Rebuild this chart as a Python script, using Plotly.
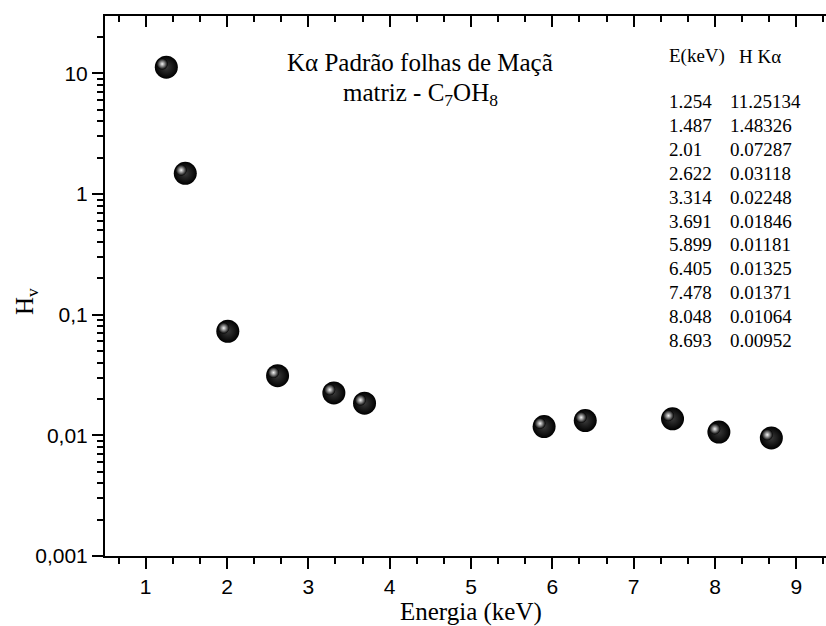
import plotly.graph_objects as go

# ---- data ----
energy = [1.254, 1.487, 2.01, 2.622, 3.314, 3.691, 5.899, 6.405, 7.478, 8.048, 8.693]
h_ka = [11.25134, 1.48326, 0.07287, 0.03118, 0.02248, 0.01846, 0.01181, 0.01325, 0.01371, 0.01064, 0.00952]
y_tickvals = [0.001, 0.01, 0.1, 1, 10]
y_ticktext = ["0,001", "0,01", "0,1", "1", "10"]
x_tickvals = [1, 2, 3, 4, 5, 6, 7, 8, 9]

SERIF = "Liberation Serif"
SANS = "Liberation Sans"

W, H = 826, 626
ML, MR, MT, MB = 105, 0, 16, 70
PW, PH = W - ML - MR, H - MT - MB


def px(xpix):
    return (xpix - ML) / PW


def py(ypix):
    return (H - MB - ypix) / PH


fig = go.Figure()

# spheres: black body
fig.add_trace(go.Scatter(
    x=energy, y=h_ka, mode="markers", hoverinfo="x+y",
    marker=dict(size=23, color="#000000", line=dict(width=0),
                gradient=dict(type="radial", color="#3a3a3a")),
    showlegend=False))
# highlight (small offset up-left)
fig.add_trace(go.Scatter(
    x=[e - 0.05 for e in energy], y=[v * 10 ** 0.026 for v in h_ka],
    mode="markers", hoverinfo="skip",
    marker=dict(size=11, color="#000000", line=dict(width=0),
                gradient=dict(type="radial", color="#f4f4f4")),
    showlegend=False))
# invisible trace to carry the top axis
fig.add_trace(go.Scatter(x=energy, y=h_ka, xaxis="x2", mode="markers",
                         marker=dict(opacity=0), hoverinfo="skip", showlegend=False))

minor_y = [m * 10 ** e for e in range(-3, 2) for m in range(2, 10)]

fig.update_layout(
    width=W, height=H,
    margin=dict(l=ML, r=MR, t=MT, b=MB),
    paper_bgcolor="white", plot_bgcolor="white",
    xaxis=dict(range=[0.5, 9.365], tickvals=x_tickvals, ticks="outside",
               ticklen=11, tickwidth=2, tickcolor="black",
               showline=True, linewidth=2, linecolor="black",
               showgrid=False, zeroline=False,
               tickfont=dict(family=SANS, size=21, color="black"),
               minor=dict(dtick=1 / 3, tick0=0, ticks="outside", ticklen=6,
                          tickwidth=2, tickcolor="black", showgrid=False)),
    xaxis2=dict(range=[0.5, 9.365], overlaying="x", side="top", matches="x",
                tickvals=x_tickvals, ticks="inside", ticklen=11, tickwidth=2,
                tickcolor="black", showline=True, linewidth=2, linecolor="black",
                showticklabels=False, showgrid=False, zeroline=False,
                minor=dict(dtick=1 / 3, tick0=0, ticks="inside", ticklen=6,
                           tickwidth=2, tickcolor="black", showgrid=False)),
    yaxis=dict(type="log", range=[-3, 1.475], tickvals=y_tickvals,
               ticktext=y_ticktext, ticks="outside", ticklen=11, tickwidth=2,
               tickcolor="black", showline=True, linewidth=2, linecolor="black",
               showgrid=False, zeroline=False,
               tickfont=dict(family=SANS, size=21, color="black"),
               minor=dict(tickvals=minor_y, ticks="outside", ticklen=6,
                          tickwidth=2, tickcolor="black", showgrid=False)),
)

ann = []
# axis titles
ann.append(dict(text="Energia (keV)", x=px(471), y=py(612), xref="paper", yref="paper",
                xanchor="center", yanchor="middle", showarrow=False,
                font=dict(family=SERIF, size=25, color="black")))
ann.append(dict(text="H<sub>v</sub>", x=px(26), y=py(302), xref="paper", yref="paper",
                xanchor="center", yanchor="middle", showarrow=False, textangle=-90,
                font=dict(family=SERIF, size=25, color="black")))
# title lines
ann.append(dict(text="K\u03b1 Padr\u00e3o folhas de Ma\u00e7\u00e3", x=px(420), y=py(63),
                xref="paper", yref="paper", xanchor="center", yanchor="middle",
                showarrow=False, font=dict(family=SERIF, size=25, color="black")))
ann.append(dict(text="matriz - C<sub>7</sub>OH<sub>8</sub>", x=px(420), y=py(95),
                xref="paper", yref="paper", xanchor="center", yanchor="middle",
                showarrow=False, font=dict(family=SERIF, size=25, color="black")))
# table
ann.append(dict(text="E(keV)", x=px(667), y=py(56), xref="paper", yref="paper",
                xanchor="left", yanchor="middle", showarrow=False,
                font=dict(family=SERIF, size=19, color="black")))
ann.append(dict(text="H K\u03b1", x=px(737), y=py(56), xref="paper", yref="paper",
                xanchor="left", yanchor="middle", showarrow=False,
                font=dict(family=SERIF, size=19, color="black")))
for i, (e, h) in enumerate(zip(energy, h_ka)):
    ypix = 102 + i * 23.8
    ann.append(dict(text=str(e), x=px(667), y=py(ypix), xref="paper", yref="paper",
                    xanchor="left", yanchor="middle", showarrow=False,
                    font=dict(family=SERIF, size=19, color="black")))
    ann.append(dict(text=str(h), x=px(727.5), y=py(ypix), xref="paper", yref="paper",
                    xanchor="left", yanchor="middle", showarrow=False,
                    font=dict(family=SERIF, size=19, color="black")))
fig.update_layout(annotations=ann)

fig.write_html("out.html")
